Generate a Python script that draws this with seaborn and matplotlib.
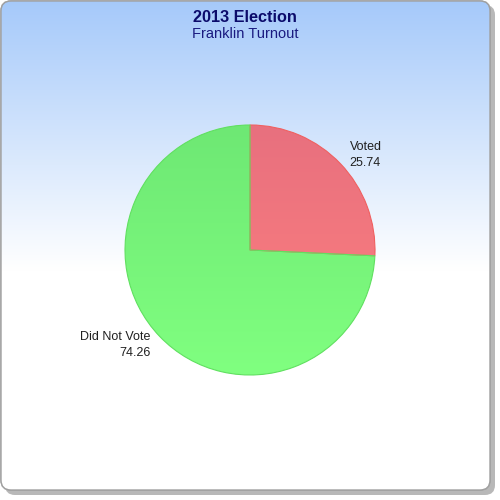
import numpy as np
import seaborn as sns
import matplotlib
matplotlib.use("Agg")
import matplotlib.pyplot as plt
from matplotlib.patches import FancyBboxPatch

labels = ["Voted", "Did Not Vote"]
values = [25.74, 74.26]
top_colors = ["#e8707e", "#6ee874"]
bottom_colors = ["#ff8080", "#80ff80"]
edge_colors = ["#f06060", "#60e060"]
title = "2013 Election"
subtitle = "Franklin Turnout"

sns.set_style("white")
plt.rcParams['font.family'] = ['Liberation Sans', 'DejaVu Sans']

fig = plt.figure(figsize=(5, 5), dpi=100)

# background with rounded frame and gradient
bg = fig.add_axes([0, 0, 1, 1])
bg.set_xlim(0, 500)
bg.set_ylim(500, 0)
bg.axis("off")
shadow = FancyBboxPatch((5, 5), 490, 490, boxstyle="round,pad=0,rounding_size=10",
                        fc="#9a9a9a", ec="none", alpha=0.7)
bg.add_patch(shadow)
frame = FancyBboxPatch((1, 1), 489, 489, boxstyle="round,pad=0,rounding_size=10",
                       fc="white", ec="#a0a0a0", lw=1)
bg.add_patch(frame)
t = np.clip(np.linspace(0, 1, 256) / 0.55, 0, 1)[:, None]
top = np.array([0.65, 0.79, 0.98])
grad = np.ones((256, 1, 3)) * (top + (1 - top) * t[..., None])
im = bg.imshow(grad, extent=[1, 490, 490, 1], aspect="auto", zorder=1)
im.set_clip_path(frame)
frame2 = FancyBboxPatch((1, 1), 489, 489, boxstyle="round,pad=0,rounding_size=10",
                        fc="none", ec="#a0a0a0", lw=1, zorder=3)
bg.add_patch(frame2)

fig.text(0.49, 0.966, title, ha="center", va="center", fontsize=11.7,
         fontweight="bold", color="#0b0b6b")
fig.text(0.49, 0.933, subtitle, ha="center", va="center", fontsize=10.5, color="#1a1a80")

ax = fig.add_axes([0.25, 0.25, 0.5, 0.5])
ax.patch.set_alpha(0)
wedges, texts = ax.pie(values, labels=[f"{l}\n{v:.2f}" for l, v in zip(labels, values)],
                       startangle=90, counterclock=False, labeldistance=1.1,
                       colors=bottom_colors,
                       wedgeprops=dict(linewidth=0.8),
                       textprops=dict(fontsize=9, color="#202020", linespacing=1.45))
ax.set_xlim(-1, 1)
ax.set_ylim(-1, 1)
for w, tc, bc, ec in zip(wedges, top_colors, bottom_colors, edge_colors):
    w.set_edgecolor(ec)
    c0 = np.array(matplotlib.colors.to_rgb(tc))
    c1 = np.array(matplotlib.colors.to_rgb(bc))
    s = np.linspace(0, 1, 128)[:, None, None]
    g = c0 + (c1 - c0) * s
    gi = ax.imshow(g, extent=[-1, 1, -1, 1], aspect="auto", zorder=1, origin="upper")
    gi.set_clip_path(w)
    w.set_facecolor("none")
    w.set_zorder(2)
for tx in texts:
    tx.set_multialignment(tx.get_ha())

fig.savefig("out.png", dpi=100)
